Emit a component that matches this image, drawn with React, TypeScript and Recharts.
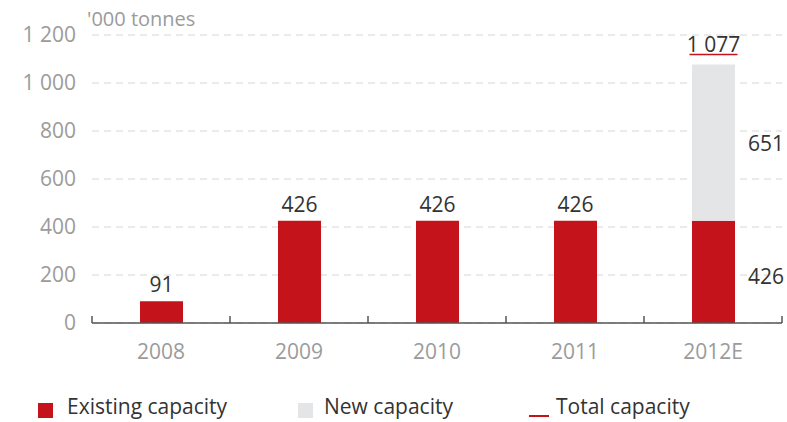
import React from 'react';
import { BarChart, Bar, XAxis, YAxis, CartesianGrid, LabelList } from 'recharts';

const categories = ['2008', '2009', '2010', '2011', '2012E'];
const existingCapacity = [91, 426, 426, 426, 426];
const newCapacity = [0, 0, 0, 0, 651];
const totalCapacity = [91, 426, 426, 426, 1077];
const yTicks = [0, 200, 400, 600, 800, 1000, 1200];

const RED = '#c4131b';
const GREY_BAR = '#e4e5e7';
const AXIS_TEXT = '#9b9b9b';
const VALUE_TEXT = '#333333';
const FONT = '"Open Sans", Lato, sans-serif';

const data = categories.map((year, i) => ({
  year,
  existing: existingCapacity[i],
  added: newCapacity[i],
  total: totalCapacity[i],
}));

// space as thousands separator, like "1 200"
const fmt = (v: number) => String(v).replace(/\B(?=(\d{3})+(?!\d))/g, ' ');

const HALF_BAND = 69;

const XTick = (props: any) => {
  const { x, y, payload, index, visibleTicksCount } = props;
  return (
    <g>
      <line x1={x - HALF_BAND} x2={x - HALF_BAND} y1={y} y2={y - 7} stroke="#555" strokeWidth={1.5} />
      {index === visibleTicksCount - 1 && (
        <line x1={x + HALF_BAND} x2={x + HALF_BAND} y1={y} y2={y - 7} stroke="#555" strokeWidth={1.5} />
      )}
      <text x={x} y={y + 28} textAnchor="middle" dominantBaseline="central" fill={AXIS_TEXT} fontSize={21} fontFamily={FONT}>
        {payload.value}
      </text>
    </g>
  );
};

const ExistingLabel = (props: any) => {
  const { x, y, width, height, index, value } = props;
  if (index === categories.length - 1) {
    return (
      <text x={x + width + 13} y={y + height / 2 + 4} dominantBaseline="central" fill={VALUE_TEXT} fontSize={21} fontFamily={FONT}>
        {fmt(value)}
      </text>
    );
  }
  return (
    <text x={x + width / 2} y={y - 17} textAnchor="middle" dominantBaseline="central" fill={VALUE_TEXT} fontSize={21} fontFamily={FONT}>
      {fmt(value)}
    </text>
  );
};

const NewLabel = (props: any) => {
  const { x, y, width, height, value } = props;
  if (!value) return null;
  const row = data.find((d) => d.added === value);
  const total = row ? row.total : value;
  return (
    <g>
      <text x={x + width + 13} y={y + height / 2} dominantBaseline="central" fill={VALUE_TEXT} fontSize={21} fontFamily={FONT}>
        {fmt(value)}
      </text>
      <text x={x + width / 2} y={y - 21} textAnchor="middle" dominantBaseline="central" fill={VALUE_TEXT} fontSize={21} fontFamily={FONT}>
        {fmt(total)}
      </text>
      <line x1={x + width / 2 - 24} x2={x + width / 2 + 24} y1={y - 10} y2={y - 10} stroke={RED} strokeWidth={1.5} />
    </g>
  );
};

export default function App() {
  return (
    <div style={{ position: 'absolute', left: 0, top: 0, width: 787, height: 422, overflow: 'hidden', background: '#fff', fontFamily: FONT }}>
      <div style={{ position: 'absolute', left: 87, top: 5, fontSize: 20, color: AXIS_TEXT, whiteSpace: 'nowrap' }}>'000 tonnes</div>
      <BarChart width={787} height={422} data={data} margin={{ top: 35, right: 5, bottom: 0, left: 0 }}>
        <CartesianGrid vertical={false} stroke="#d6d6d6" strokeDasharray="7 5" />
        <XAxis
          dataKey="year"
          height={99}
          tickLine={false}
          tickSize={0}
          tickMargin={0}
          axisLine={{ stroke: '#555', strokeWidth: 1.5 }}
          tick={<XTick />}
          interval={0}
        />
        <YAxis
          width={92}
          domain={[0, 1200]}
          ticks={yTicks}
          tickFormatter={fmt}
          axisLine={false}
          tickLine={false}
          tickSize={0}
          tickMargin={16}
          tick={{ fill: AXIS_TEXT, fontSize: 21, fontFamily: FONT }}
        />
        <Bar dataKey="existing" stackId="cap" fill={RED} barSize={43} isAnimationActive={false}>
          <LabelList dataKey="existing" content={<ExistingLabel />} />
        </Bar>
        <Bar dataKey="added" stackId="cap" fill={GREY_BAR} barSize={43} isAnimationActive={false}>
          <LabelList dataKey="added" content={<NewLabel />} />
        </Bar>
      </BarChart>
      <div style={{ position: 'absolute', left: 38, top: 403, width: 15, height: 15, background: RED }} />
      <div style={{ position: 'absolute', left: 67, top: 392, fontSize: 21, color: VALUE_TEXT, whiteSpace: 'nowrap' }}>Existing capacity</div>
      <div style={{ position: 'absolute', left: 298, top: 403, width: 15, height: 15, background: GREY_BAR }} />
      <div style={{ position: 'absolute', left: 324, top: 392, fontSize: 21, color: VALUE_TEXT, whiteSpace: 'nowrap' }}>New capacity</div>
      <div style={{ position: 'absolute', left: 529, top: 415, width: 20, height: 1.5, background: RED }} />
      <div style={{ position: 'absolute', left: 556, top: 392, fontSize: 21, color: VALUE_TEXT, whiteSpace: 'nowrap' }}>Total capacity</div>
    </div>
  );
}
